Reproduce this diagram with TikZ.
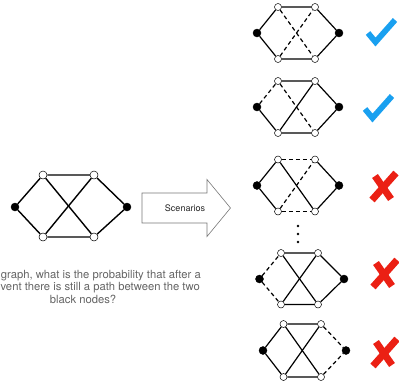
\documentclass[tikz,border=0pt]{standalone}
\usepackage{fontspec}
\setmainfont{TeX Gyre Heros}
\definecolor{chk}{RGB}{25,160,240}
\definecolor{crs}{RGB}{235,32,20}
\definecolor{txtgray}{RGB}{100,100,100}
\definecolor{arrgray}{RGB}{120,120,120}
\newcommand\mkgraph[3]{%
  \begin{scope}[shift={(#2,#3)}]
    \node[bn] (#1L) at (0,0) {};
    \node[wns] (#1TL) at (21,-26) {};
    \node[wns] (#1TR) at (58,-26) {};
    \node[bn] (#1R) at (82,0) {};
    \node[wns] (#1BL) at (21,26) {};
    \node[wns] (#1BR) at (58,26) {};
  \end{scope}}
\newcommand\mkcross[3]{%
  \begin{scope}[shift={(#2,#3)}]
    \coordinate (#1a) at (-9,-11);
    \coordinate (#1b) at (7,12);
    \coordinate (#1c) at (12,-14);
    \coordinate (#1d) at (-12,13);
    \draw[crossline] (#1a) -- (#1b);
    \draw[crossline] (#1c) -- (#1d);
  \end{scope}}
\newcommand\mkcheck[3]{%
  \begin{scope}[shift={(#2,#3)}]
    \coordinate (#1a) at (0,0);
    \coordinate (#1b) at (7.5,9);
    \coordinate (#1c) at (27,-13);
    \draw[checkline] (#1a) -- (#1b) -- (#1c);
  \end{scope}}
\begin{document}
\begin{tikzpicture}[x=1pt,y=-1pt,
  wn/.style={circle,draw=black,fill=white,inner sep=0pt,minimum size=8pt,line width=0.5pt},
  wns/.style={circle,draw=black,fill=white,inner sep=0pt,minimum size=7pt,line width=0.5pt},
  bn/.style={circle,fill=black,draw=black,inner sep=0pt,minimum size=8pt},
  edge/.style={line width=1.4pt},
  sedge/.style={line width=1.2pt},
  dedge/.style={line width=1.2pt,dash pattern=on 4pt off 3pt},
  crossline/.style={crs,line width=7pt},
  checkline/.style={chk,line width=5.8pt,line join=miter},
  desc/.style={txtgray,font=\fontsize{11.25}{12.5}\selectfont,inner sep=0pt},
  dotn/.style={circle,fill=black,inner sep=0pt,minimum size=2.6pt}]
\useasboundingbox (0,0) rectangle (399,381);
% main graph
\node[bn] (mL) at (15,207) {};
\node[wn] (mTL) at (43,175) {};
\node[wn] (mTR) at (94,175) {};
\node[bn] (mR) at (127,207) {};
\node[wn] (mBL) at (43,237) {};
\node[wn] (mBR) at (94,237) {};
\draw[edge] (mL) -- (mTL) -- (mTR) -- (mR) -- (mBR) -- (mBL) -- (mL);
\draw[edge] (mTL) -- (mBR);
\draw[edge] (mBL) -- (mTR);
% description
\node[desc,anchor=base east] (d1) at (201,278) {graph, what is the probability that after a};
\node[desc,anchor=base east] (d2) at (200,290.5) {vent there is still a path between the two};
\node[desc,anchor=base] (d3) at (83,303) {black nodes?};
% arrow
\coordinate (a1) at (142,193);
\coordinate (a2) at (207,193);
\coordinate (a3) at (207,179.5);
\coordinate (a4) at (230.5,208);
\coordinate (a5) at (207,236.5);
\coordinate (a6) at (207,223);
\coordinate (a7) at (142,223);
\draw[arrgray,line width=0.6pt,fill=white] (a1) -- (a2) -- (a3) -- (a4) -- (a5) -- (a6) -- (a7) -- cycle;
\node[font=\fontsize{9}{10}\selectfont,text=black!85] (scen) at (185,208) {Scenarios};
% scenario 1
\mkgraph{g1}{257}{33}
\draw[sedge] (g1L) -- (g1TL) -- (g1TR) -- (g1R) -- (g1BR) -- (g1BL) -- (g1L);
\draw[dedge] (g1TL) -- (g1BR);
\draw[dedge] (g1BL) -- (g1TR);
\mkcheck{c1}{368}{33}
% scenario 2
\mkgraph{g2}{257}{107}
\draw[sedge] (g2L) -- (g2BL) -- (g2BR) -- (g2R) -- (g2TR) -- (g2TL);
\draw[dedge] (g2L) -- (g2TL);
\draw[dedge] (g2TL) -- (g2BR);
\draw[sedge] (g2BL) -- (g2TR);
\mkcheck{c2}{365}{109}
% scenario 3
\mkgraph{g3}{257}{185.5}
\draw[sedge] (g3TL) -- (g3L) -- (g3BL);
\draw[sedge] (g3TR) -- (g3R) -- (g3BR);
\draw[dedge] (g3TL) -- (g3TR);
\draw[dedge] (g3BL) -- (g3BR);
\draw[sedge] (g3TL) -- (g3BR);
\draw[dedge] (g3BL) -- (g3TR);
\mkcross{x3}{384}{187}
% dots
\node[dotn] (p1) at (298,226) {};
\node[dotn] (p2) at (298,234) {};
\node[dotn] (p3) at (298,242) {};
% scenario 4
\begin{scope}[shift={(259.5,279)}]
  \node[bn] (g4L) at (0,0) {};
  \node[wns] (g4TL) at (21.5,-26) {};
  \node[wns] (g4TR) at (58.5,-26) {};
  \node[bn] (g4R) at (84.5,0) {};
  \node[wns] (g4BL) at (21.5,25.5) {};
  \node[wns] (g4BR) at (58.5,25.5) {};
\end{scope}
\draw[sedge] (g4TL) -- (g4TR) -- (g4R) -- (g4BR) -- (g4BL);
\draw[dedge] (g4L) -- (g4TL);
\draw[dedge] (g4L) -- (g4BL);
\draw[sedge] (g4TL) -- (g4BR);
\draw[sedge] (g4BL) -- (g4TR);
\mkcross{x4}{385}{274}
% scenario 5
\begin{scope}[shift={(263,350.5)}]
  \node[bn] (g5L) at (0,0) {};
  \node[wns] (g5TL) at (20.5,-26.5) {};
  \node[wns] (g5TR) at (58,-26.5) {};
  \node[bn] (g5R) at (83,0) {};
  \node[wns] (g5BL) at (20.5,26.5) {};
  \node[wns] (g5BR) at (58,26.5) {};
\end{scope}
\draw[sedge] (g5TR) -- (g5TL) -- (g5L) -- (g5BL) -- (g5BR);
\draw[dedge] (g5TR) -- (g5R);
\draw[dedge] (g5BR) -- (g5R);
\draw[sedge] (g5TL) -- (g5BR);
\draw[sedge] (g5BL) -- (g5TR);
\mkcross{x5}{385}{353}
\end{tikzpicture}
\end{document}
